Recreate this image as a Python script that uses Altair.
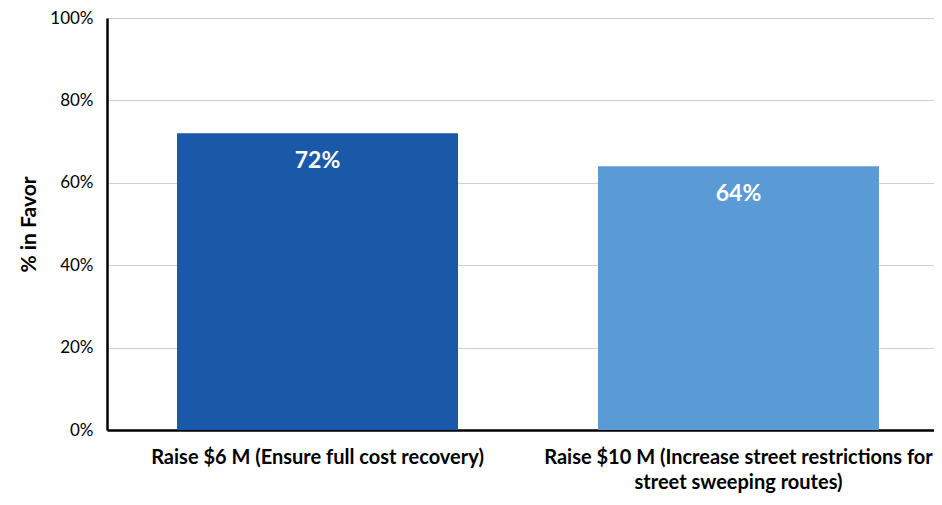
import altair as alt
import pandas as pd

categories = [
    "Raise $6 M (Ensure full cost recovery)",
    "Raise $10 M (Increase street restrictions for|street sweeping routes)",
]
values = [0.72, 0.64]
labels = ["72%", "64%"]
colors = ["#1A58A8", "#5B9BD5"]

df = pd.DataFrame({"cat": categories, "val": values, "lab": labels})

FONT = "Lato"

x = alt.X(
    "cat:N",
    sort=categories,
    title=None,
    scale=alt.Scale(paddingInner=0.3325, paddingOuter=0.1485, align=0.56),
    axis=alt.Axis(
        labelAngle=0,
        labelExpr="split(datum.label, '|')",
        labelFont=FONT,
        labelFontSize=20,
        labelFontWeight="bold",
        labelColor="#000000",
        labelPadding=17,
        labelLineHeight=25,
        labelLimit=600,
        labelOverlap=False,
        ticks=False,
        domainColor="#000000",
        domainWidth=2.5,
        grid=False,
    ),
)

y = alt.Y(
    "val:Q",
    title="% in Favor",
    scale=alt.Scale(domain=[0, 1], nice=False),
    axis=alt.Axis(
        format=".0%",
        values=[0, 0.2, 0.4, 0.6, 0.8, 1.0],
        labelFont=FONT,
        labelFontSize=17,
        labelColor="#000000",
        labelPadding=14,
        ticks=False,
        domainColor="#000000",
        domainWidth=2.5,
        gridColor="#d0d0d0",
        gridWidth=1,
        titleFont=FONT,
        titleFontSize=21,
        titleFontWeight="bold",
        titleColor="#000000",
        titleX=-68,
    ),
)

bars = alt.Chart(df).mark_bar().encode(
    x=x,
    y=y,
    color=alt.Color("cat:N", scale=alt.Scale(domain=categories, range=colors), legend=None),
)

text = alt.Chart(df).mark_text(
    font=FONT, fontSize=23, fontWeight="bold", color="white", baseline="middle", dy=28
).encode(
    x=alt.X("cat:N", sort=categories),
    y=alt.Y("val:Q"),
    text="lab:N",
)

chart = (
    alt.layer(bars, text)
    .properties(
        width=827,
        height=412,
        autosize=alt.AutoSizeParams(type="none"),
        padding={"left": 99, "top": 10, "right": 0, "bottom": 67},
    )
    .configure_view(stroke=None)
)

chart.save("out.html", embed_options={"renderer": "svg", "actions": False})
